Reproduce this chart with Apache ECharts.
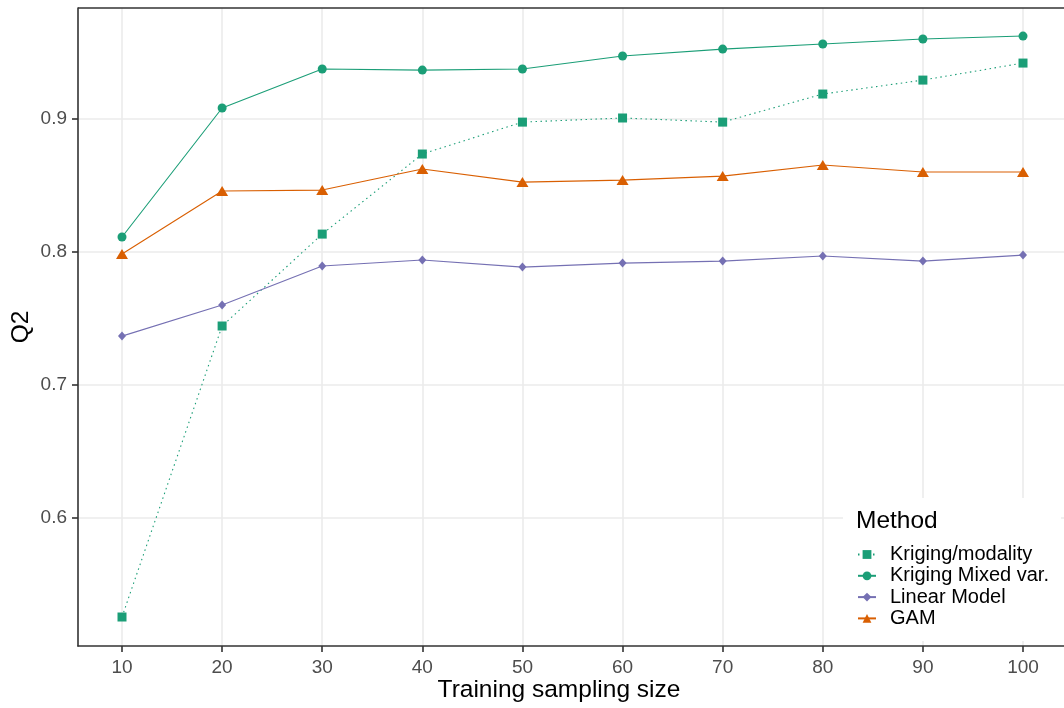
<!DOCTYPE html>
<html>
<head>
<meta charset="utf-8">
<script src="https://cdn.jsdelivr.net/npm/echarts@6/dist/echarts.min.js"></script>
<style>html,body{margin:0;padding:0;background:#fff}#c{width:1064px;height:708px}</style>
</head>
<body>
<div id="c"></div>
<script>
const sizes = [10, 20, 30, 40, 50, 60, 70, 80, 90, 100];
const krigingModality = [0.5256, 0.7444, 0.8135, 0.8737, 0.8977, 0.9008, 0.8977, 0.9188, 0.9293, 0.9421];
const krigingMixed = [0.8113, 0.9083, 0.9376, 0.9368, 0.9376, 0.9474, 0.9526, 0.9564, 0.9602, 0.9624];
const linearModel = [0.7368, 0.7602, 0.7895, 0.7940, 0.7887, 0.7917, 0.7932, 0.7970, 0.7932, 0.7977];
const gam = [0.7985, 0.8459, 0.8466, 0.8624, 0.8526, 0.8541, 0.8571, 0.8654, 0.8602, 0.8602];
const xTicks = [10, 20, 30, 40, 50, 60, 70, 80, 90, 100];
const yTicks = [0.6, 0.7, 0.8, 0.9];
const seriesNames = ['Kriging/modality', 'Kriging Mixed var.', 'Linear Model', 'GAM'];

const GREEN = '#1B9E77', ORANGE = '#D95F02', PURPLE = '#7570B3';
const FONT = 'Liberation Sans';
const pair = arr => sizes.map((s, i) => [s, arr[i]]);

function mk(name, data, color, symbol, symbolSize, dashed) {
  return {
    name, type: 'line', data: pair(data), color,
    symbol, symbolSize, showSymbol: true,
    lineStyle: { color, width: 1.1, type: dashed ? [1.5, 3.5] : 'solid' },
    itemStyle: { color },
    emphasis: { disabled: true },
    animation: false, z: 2
  };
}

const chart = echarts.init(document.getElementById('c'), null, { renderer: 'canvas' });
chart.setOption({
  backgroundColor: '#fff',
  animation: false,
  grid: { left: 78, top: 8, bottom: 62, right: 0, show: false },
  xAxis: {
    type: 'value', min: 5.605, max: 104.095,
    axisLine: { show: true, lineStyle: { color: '#333', width: 1.6 } },
    axisTick: { show: true, length: 6, customValues: xTicks, lineStyle: { color: '#333', width: 1.6 } },
    axisLabel: { customValues: xTicks, color: '#4D4D4D', fontSize: 19, fontFamily: FONT, margin: 12 },
    splitLine: { show: true, lineStyle: { color: '#EBEBEB', width: 1.6 } }
  },
  yAxis: {
    type: 'value', min: 0.5038, max: 0.9835,
    axisLine: { show: true, lineStyle: { color: '#333', width: 1.6 } },
    axisTick: { show: true, length: 6, customValues: yTicks, lineStyle: { color: '#333', width: 1.6 } },
    axisLabel: { customValues: yTicks, color: '#4D4D4D', fontSize: 19, fontFamily: FONT, margin: 11, formatter: v => v.toFixed(1) },
    splitLine: { show: true, lineStyle: { color: '#EBEBEB', width: 1.6 } }
  },
  legend: {
    orient: 'vertical', left: 852, top: 539,
    data: seriesNames,
    itemWidth: 18, itemHeight: 11, itemGap: 0.3,
    textStyle: { fontFamily: FONT, fontSize: 20, color: '#000', lineHeight: 21, padding: [0, 0, 0, 9] },
    selectedMode: false, z: 5
  },
  graphic: [
    { type: 'line', z: 4, shape: { x1: 78, y1: 8, x2: 1064, y2: 8 }, style: { stroke: '#333', lineWidth: 1.6 } },
    { type: 'rect', z: 3, shape: { x: 843, y: 498, width: 218, height: 143 }, style: { fill: '#fff' } },
    { type: 'text', z: 4, left: 856, top: 509, style: { text: 'Method', fontFamily: FONT, fontSize: 24.5, fill: '#000' } },
    { type: 'text', z: 4, x: 559, y: 690, style: { text: 'Training sampling size', fontFamily: FONT, fontSize: 24.5, fill: '#000', textAlign: 'center', textVerticalAlign: 'middle' } },
    { type: 'text', z: 4, x: 21, y: 327, rotation: Math.PI / 2, style: { text: 'Q2', fontFamily: FONT, fontSize: 24.5, fill: '#000', textAlign: 'center', textVerticalAlign: 'middle' } }
  ],
  series: [
    mk(seriesNames[0], krigingModality, GREEN, 'rect', 9, true),
    mk(seriesNames[1], krigingMixed, GREEN, 'circle', 9, false),
    mk(seriesNames[2], linearModel, PURPLE, 'diamond', [8, 9], false),
    mk(seriesNames[3], gam, ORANGE, 'triangle', [12, 10], false)
  ]
});
</script>
</body>
</html>
